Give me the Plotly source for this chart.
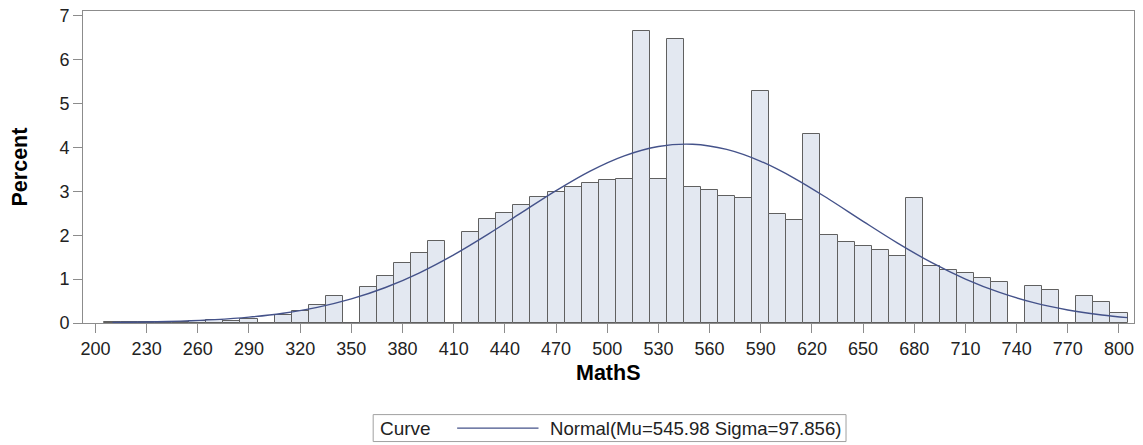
import plotly.graph_objects as go

# histogram of MathS, bins of width 10 (midpoints)
bin_mid = [210, 220, 230, 240, 250, 260, 270, 280, 290, 300,
           310, 320, 330, 340, 350, 360, 370, 380, 390, 400,
           410, 420, 430, 440, 450, 460, 470, 480, 490, 500,
           510, 520, 530, 540, 550, 560, 570, 580, 590, 600,
           610, 620, 630, 640, 650, 660, 670, 680, 690, 700,
           710, 720, 730, 740, 750, 760, 770, 780, 790, 800]
percent = [0.02, 0.02, 0.02, 0.02, 0.03, 0.04, 0.07, 0.05, 0.09, 0,
           0.19, 0.28, 0.41, 0.61, 0, 0.82, 1.08, 1.37, 1.60, 1.87,
           0, 2.07, 2.36, 2.51, 2.68, 2.88, 2.98, 3.10, 3.19, 3.26,
           3.29, 6.65, 3.29, 6.48, 3.10, 3.03, 2.89, 2.86, 5.28, 2.48,
           2.35, 4.30, 2.01, 1.84, 1.75, 1.67, 1.53, 2.86, 1.29, 1.21,
           1.14, 1.02, 0.93, 0, 0.85, 0.76, 0, 0.61, 0.47, 0.23]

# fitted normal curve
curve_x = [210, 230, 250, 270, 290, 310, 330, 350, 370, 390,
           410, 430, 450, 470, 490, 510, 530, 550, 570, 590,
           610, 630, 650, 670, 690, 710, 730, 750, 770, 790, 805]
curve_y = [0.011, 0.022, 0.042, 0.076, 0.133, 0.223, 0.357, 0.549, 0.809, 1.145,
           1.553, 2.020, 2.520, 3.016, 3.462, 3.810, 4.023, 4.074, 3.956, 3.685,
           3.292, 2.820, 2.317, 1.826, 1.380, 1.001, 0.696, 0.464, 0.297, 0.182, 0.123]

curve_name = "Normal(Mu=545.98 Sigma=97.856)"
font = "Liberation Sans, Arial, sans-serif"
grey = "#8c8c8c"

fig = go.Figure()
fig.add_trace(go.Bar(x=bin_mid, y=percent, width=10,
                     marker=dict(color="#e3e8f1", line=dict(color="#606060", width=1)),
                     showlegend=False))
fig.add_trace(go.Scatter(x=curve_x, y=curve_y, mode="lines",
                         line=dict(color="#44528a", width=1.4, shape="spline"),
                         name=curve_name, showlegend=False))

fig.update_xaxes(range=[192.7, 808.8], tick0=200, dtick=30, ticks="outside", ticklen=9,
                 tickcolor=grey, showline=True, linecolor=grey, mirror=True,
                 showgrid=False, zeroline=False, automargin=False,
                 tickfont=dict(family=font, size=18, color="#222222"))
fig.update_yaxes(range=[0, 7.11], dtick=1, ticks="outside", ticklen=9,
                 tickcolor=grey, showline=True, linecolor=grey, mirror=True,
                 showgrid=False, zeroline=False, automargin=False,
                 tickfont=dict(family=font, size=18, color="#222222"))

# axis titles
fig.add_annotation(text="<b>MathS</b>", xref="paper", yref="paper", x=0.5, y=-0.159,
                   showarrow=False, xanchor="center", yanchor="middle",
                   font=dict(family=font, size=21.5, color="black"))
fig.add_annotation(text="<b>Percent</b>", xref="paper", yref="paper", x=-0.0595, y=0.5,
                   textangle=-90, showarrow=False, xanchor="center", yanchor="middle",
                   font=dict(family=font, size=21.5, color="black"))

# legend drawn by hand so the sample line is as long as in the original
fig.add_shape(type="rect", xref="paper", yref="paper", x0=0.2761, x1=0.7260,
              y0=-0.380, y1=-0.2936, line=dict(color="#a0a0a0", width=1))
fig.add_shape(type="line", xref="paper", yref="paper", x0=0.356, x1=0.4334,
              y0=-0.3369, y1=-0.3369, line=dict(color="#44528a", width=1.4))
fig.add_annotation(text="Curve", xref="paper", yref="paper", x=0.2808, y=-0.3369,
                   showarrow=False, xanchor="left", yanchor="middle",
                   font=dict(family=font, size=19, color="#222222"))
fig.add_annotation(text=curve_name, xref="paper", yref="paper", x=0.4425, y=-0.3369,
                   showarrow=False, xanchor="left", yanchor="middle",
                   font=dict(family=font, size=18.6, color="#222222"))

fig.update_layout(width=1143, height=445, margin=dict(l=83, r=9, t=11, b=122),
                  plot_bgcolor="white", paper_bgcolor="white", bargap=0,
                  font=dict(family=font))

# page has a default 8px body margin; drop it so the figure sits at the corner
fig.write_html("out.html", config={"displayModeBar": False},
               post_script="document.body.style.margin='0';")
